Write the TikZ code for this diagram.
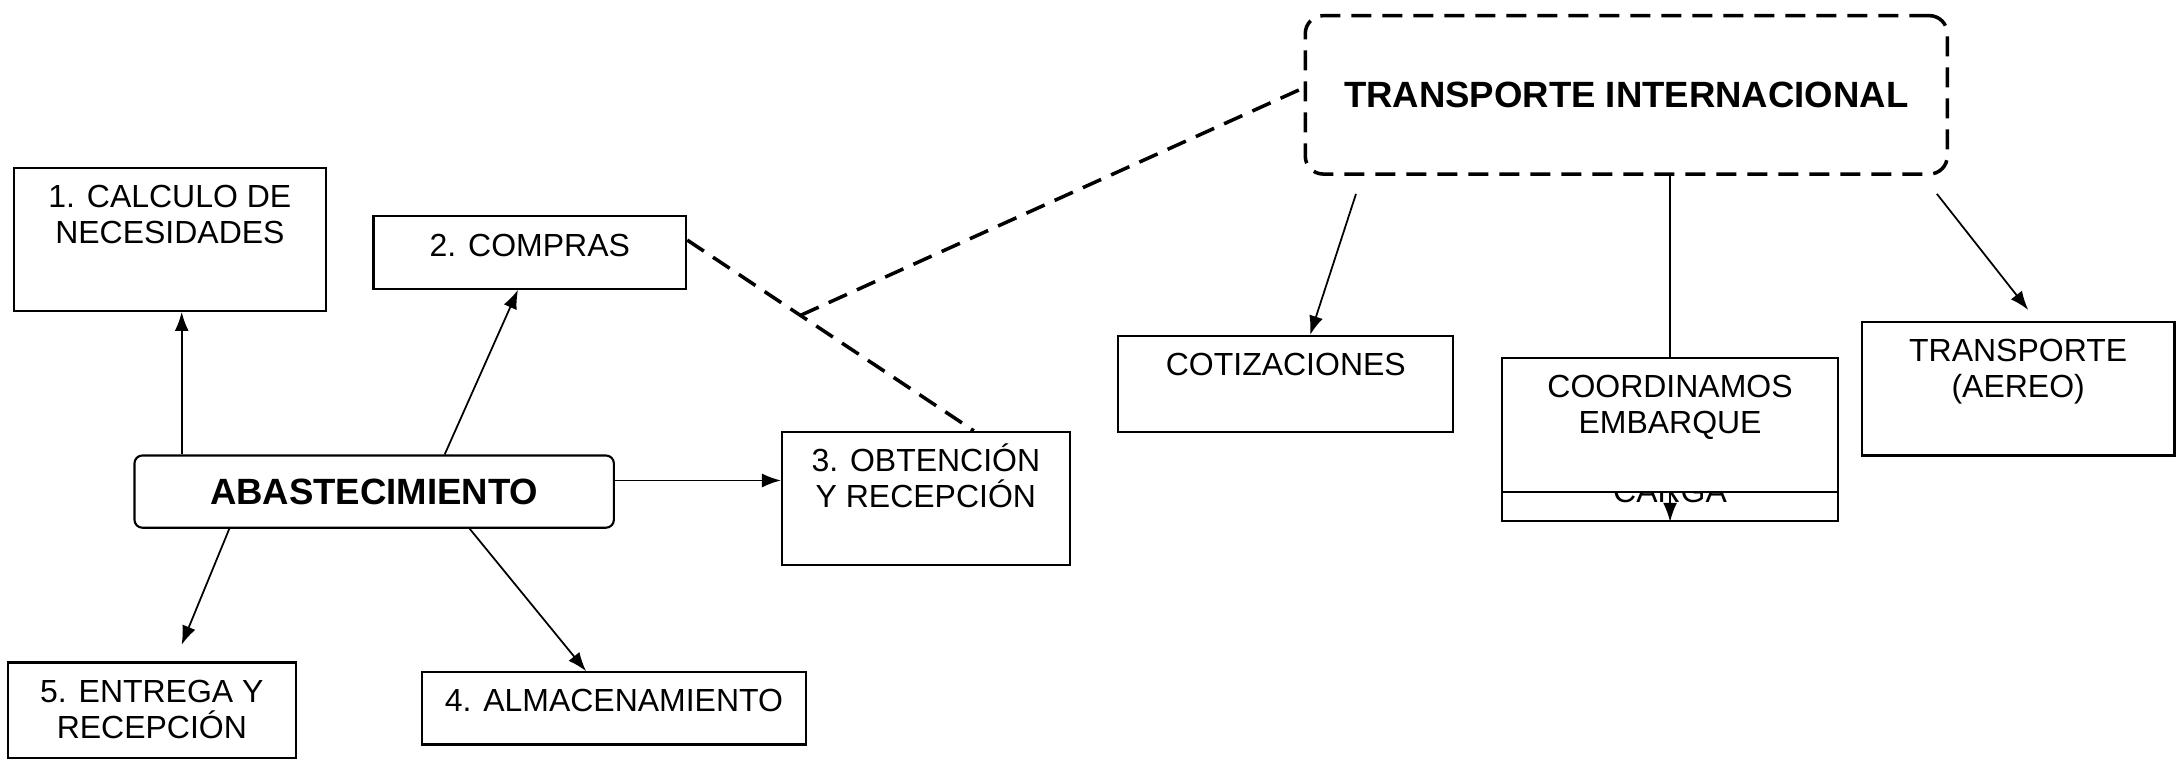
\documentclass[tikz,border=0pt]{standalone}
\usepackage{fontspec}
\setmainfont{Liberation Sans}
\usepackage{tikz}
\usetikzlibrary{arrows.meta,calc}
\newlength{\px}
\setlength{\px}{0.13897mm}
\newcommand{\boxtext}[4][28.5]{\parbox[c][#3\px][t]{#2\px}{\centering\rule{0pt}{#1\px}#4}}

\begin{document}
\begin{tikzpicture}[x=0.13897mm,y=-0.13897mm,
  font=\fontsize{9.1pt}{10.3pt}\selectfont,
  flowBox/.style={draw,line width=0.6pt,inner sep=0pt,anchor=north west,fill=white},
  mainBox/.style={draw,line width=0.6pt,inner sep=0pt,anchor=north west,fill=white,
    rounded corners=0.8mm,font=\fontsize{10.4pt}{12pt}\selectfont\bfseries},
  linkArrow/.style={line width=0.5pt,-{Latex[length=1.9mm,width=1.4mm]}},
  linkDashed/.style={line width=1pt,dash pattern=on 2mm off 1.1mm}]
\useasboundingbox (0,0) rectangle (1568,549);
\node[flowBox] (calcNec) at (9,120) {\boxtext{225}{103}{1. CALCULO DE\\NECESIDADES}};
\node[flowBox] (compras) at (268,155) {\boxtext{225}{52}{2. COMPRAS}};
\node[mainBox,minimum width=345\px,minimum height=52\px] (abast) at (96,327) {ABASTECIMIENTO};
\node[flowBox] (obtencion) at (562,310) {\boxtext{207}{96}{3. OBTENCIÓN\\Y RECEPCIÓN}};
\node[flowBox] (entrega) at (5,476) {\boxtext{207}{69}{5. ENTREGA Y\\RECEPCIÓN}};
\node[flowBox] (almacen) at (303,483) {\boxtext{276}{52}{4. ALMACENAMIENTO}};
\node[mainBox,rounded corners=1.8mm,line width=1pt,dash pattern=on 2mm off 1.1mm,
  minimum width=462\px,minimum height=114\px] (transInt) at (938,10) {TRANSPORTE INTERNACIONAL};
\node[flowBox] (cotiz) at (804,241) {\boxtext{241}{69}{COTIZACIONES}};
\node[flowBox] (aereo) at (1339,231) {\boxtext{225}{96}{TRANSPORTE\\(AEREO)}};
\node[flowBox] (carga) at (1080,290) {\boxtext[71]{242}{84}{CARGA}};
\draw[linkArrow] (carga.north |- transInt.south) -- (carga.south);
\node[flowBox] (coordEmb) at (1080,257) {\boxtext{242}{96}{COORDINAMOS\\EMBARQUE}};

\coordinate (calcIn) at ($(calcNec.south)+(8.5,0)$);
\draw[linkArrow] (abast.north -| calcIn) -- (calcIn);
\draw[linkArrow] ($(abast.north west)+(224,0)$) -- ($(compras.south)+(-8.5,0)$);
\coordinate (abastOut) at ($(abast.east)+(0,-8)$);
\draw[linkArrow] (abastOut) -- (abastOut -| obtencion.west);
\draw[linkArrow,shorten >=1.8mm] ($(abast.south west)+(69,0)$) -- ($(entrega.north)+(16.5,0)$);
\draw[linkArrow] ($(abast.south west)+(242,0)$) -- ($(almacen.north)+(-20,0)$);
\draw[linkArrow,shorten <=1.9mm] ($(transInt.south west)+(42,0)$) -- ($(cotiz.north)+(17.5,0)$);
\draw[linkArrow,shorten <=2.3mm,shorten >=1.4mm] ($(transInt.south east)+(-19,0)$) -- ($(aereo.north)+(13.5,0)$);

\coordinate (comprasOut) at ($(compras.east)+(0,-9)$);
\coordinate (obtencionIn) at ($(obtencion.north)+(34.5,0)$);
\draw[linkDashed] (comprasOut) -- (obtencionIn);
\draw[linkDashed] ($(comprasOut)!0.395!(obtencionIn)$) -- ($(transInt.west)+(0,-5)$);
\end{tikzpicture}
\end{document}
